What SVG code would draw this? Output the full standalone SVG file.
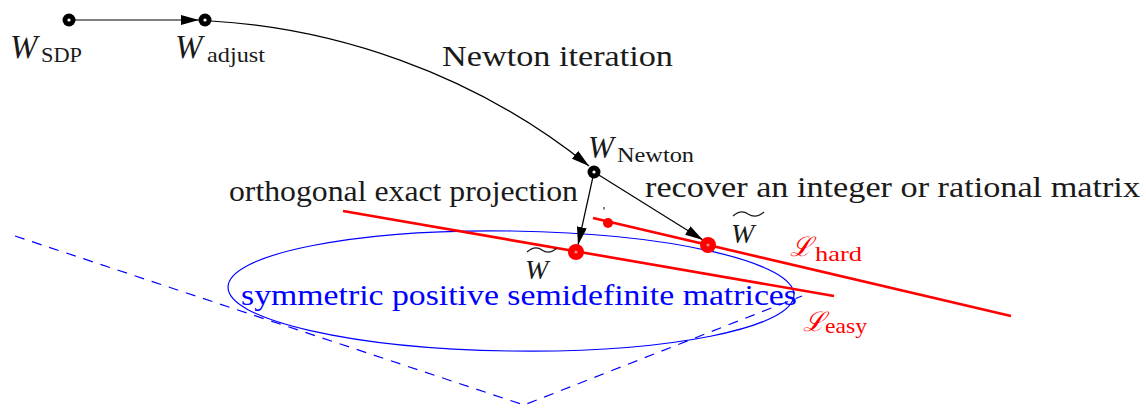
<svg xmlns="http://www.w3.org/2000/svg" width="1146" height="408" viewBox="0 0 1146 408">
<defs>
<marker id="ah" viewBox="0 0 18 10" refX="18" refY="5" markerWidth="18" markerHeight="10" markerUnits="userSpaceOnUse" orient="auto">
<path d="M0,0 L18,5 L0,10 z" fill="#000"/>
</marker>
</defs>
<rect width="1146" height="408" fill="#fff"/>
<g id="cone">
<path d="M15,236 L524,405 L802,296" fill="none" stroke="#0000ff" stroke-width="1.2" stroke-dasharray="10,8"/>
<ellipse cx="511" cy="291" rx="283" ry="60" transform="rotate(0.8 511 291)" fill="none" stroke="#0000ff" stroke-width="1.2"/>
<text x="241" y="305" font-family="Liberation Serif" font-size="29" textLength="556" lengthAdjust="spacingAndGlyphs" fill="#0000ff">symmetric positive semidefinite matrices</text>
</g>
<g id="lines" fill="none" stroke="#ff0000" stroke-width="2.6">
<line x1="343" y1="211" x2="834" y2="296"/>
<line x1="593" y1="218" x2="1011" y2="316"/>
</g>
<g id="l-easy">
<text x="803" y="331" fill="#ff0000" font-family="DejaVu Serif" font-style="italic" font-size="27">ℒ</text>
<text x="825" y="333" fill="#ff0000" font-family="Liberation Serif" font-size="21" textLength="42" lengthAdjust="spacingAndGlyphs">easy</text>
</g>
<g id="l-hard">
<text x="790" y="256" fill="#ff0000" font-family="DejaVu Serif" font-style="italic" font-size="27">ℒ</text>
<text x="815" y="261" fill="#ff0000" font-family="Liberation Serif" font-size="21" textLength="47" lengthAdjust="spacingAndGlyphs">hard</text>
</g>
<g id="connectors" fill="none" stroke="#000" stroke-width="1.2">
<line x1="69" y1="20" x2="199" y2="20" marker-end="url(#ah)"/>
<path d="M211,21 C330,28 470,70 589,166" marker-end="url(#ah)"/>
<line x1="594" y1="172" x2="703" y2="240" marker-end="url(#ah)"/>
<line x1="594" y1="172" x2="578" y2="245" marker-end="url(#ah)"/>
</g>
<g id="n-sdp">
<circle cx="69" cy="20" r="6.5" fill="#000"/><circle cx="69" cy="20" r="1.6" fill="#fff"/>
<text x="10" y="58" fill="#1a1a1a" font-family="Liberation Serif" font-style="italic" font-size="33">W</text>
<text x="41" y="62" fill="#1a1a1a" font-family="Liberation Serif" font-size="21" textLength="41" lengthAdjust="spacingAndGlyphs">SDP</text>
</g>
<g id="n-adjust">
<circle cx="205" cy="20" r="6.5" fill="#000"/><circle cx="205" cy="20" r="1.6" fill="#fff"/>
<text x="175" y="58" fill="#1a1a1a" font-family="Liberation Serif" font-style="italic" font-size="33">W</text>
<text x="207" y="62" fill="#1a1a1a" font-family="Liberation Serif" font-size="21" textLength="58" lengthAdjust="spacingAndGlyphs">adjust</text>
</g>
<g id="n-newton">
<circle cx="594" cy="172" r="6.5" fill="#000"/><circle cx="594" cy="172" r="1.6" fill="#fff"/>
<text x="588" y="158" fill="#1a1a1a" font-family="Liberation Serif" font-style="italic" font-size="31">W</text>
<text x="617" y="162" fill="#1a1a1a" font-family="Liberation Serif" font-size="21" textLength="77" lengthAdjust="spacingAndGlyphs">Newton</text>
</g>
<g id="n-easy">
<circle cx="576" cy="252" r="8" fill="#ff0000"/><circle cx="576" cy="252" r="1.6" fill="#ff8080"/>
<text x="525" y="279" fill="#1a1a1a" font-family="Liberation Serif" font-style="italic" font-size="28">W</text>
<path d="M527,252 Q535,245 542,250 Q549,255 557,248" fill="none" stroke="#1a1a1a" stroke-width="1.3"/>
</g>
<g id="n-hard">
<circle cx="708" cy="245" r="8" fill="#ff0000"/><circle cx="708" cy="245" r="1.6" fill="#ff8080"/>
<text x="731" y="243" fill="#1a1a1a" font-family="Liberation Serif" font-style="italic" font-size="28">W</text>
<path d="M733,216 Q741,209 748,214 Q756,219 764,212" fill="none" stroke="#1a1a1a" stroke-width="1.3"/>
</g>
<g id="n-small">
<circle cx="608" cy="223" r="5" fill="#ff0000"/>
<rect x="603.5" y="207" width="1" height="2.5" fill="#000"/>
</g>
<g id="labels">
<text x="442" y="66" fill="#1a1a1a" font-family="Liberation Serif" font-size="30" textLength="231" lengthAdjust="spacingAndGlyphs">Newton iteration</text>
<text x="229" y="201" fill="#1a1a1a" font-family="Liberation Serif" font-size="30" textLength="349" lengthAdjust="spacingAndGlyphs">orthogonal exact projection</text>
<text x="645" y="197" fill="#1a1a1a" font-family="Liberation Serif" font-size="30" textLength="495" lengthAdjust="spacingAndGlyphs">recover an integer or rational matrix</text>
</g>
</svg>
